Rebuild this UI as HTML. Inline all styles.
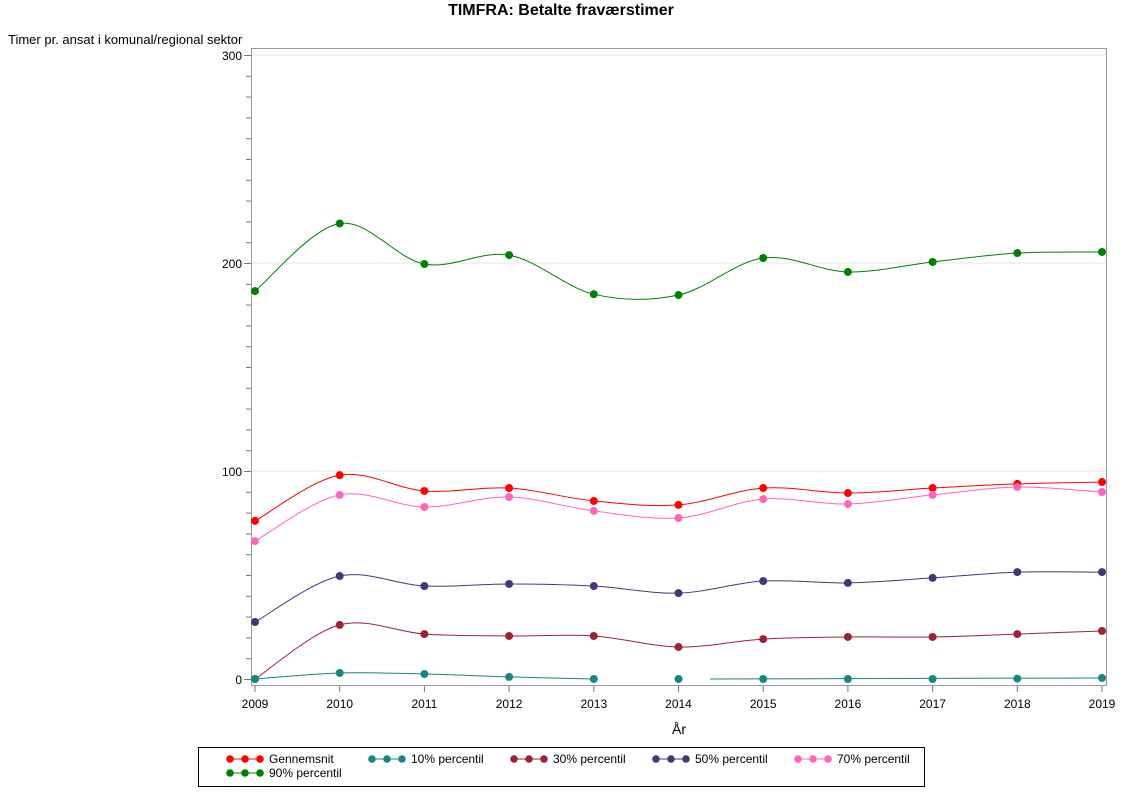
<!DOCTYPE html>
<html><head><meta charset="utf-8"><style>
body{margin:0;background:#fff;width:1122px;height:793px;overflow:hidden;font-family:"Liberation Sans",Arial,sans-serif}
</style></head><body>
<svg id="s" width="1122" height="793" xmlns="http://www.w3.org/2000/svg" font-family="Liberation Sans, Arial, sans-serif">
<text x="561" y="15" text-anchor="middle" font-size="16" font-weight="bold">TIMFRA: Betalte fraværstimer</text>
<text x="8" y="44" font-size="13">Timer pr. ansat i komunal/regional sektor</text>
<text x="679" y="734" text-anchor="middle" font-size="14">År</text>
<g id="grid"></g>
<rect x="251.5" y="48.5" width="855" height="637" fill="none" stroke="#999"/>
<g id="ax"></g>
<g id="series"></g>
<rect x="198.5" y="747.5" width="726" height="39" fill="none" stroke="#000"/>
<g id="leg" font-size="12"></g>
</svg>
<script>
var NS="http://www.w3.org/2000/svg";
function el(p,t,a,txt){var e=document.createElementNS(NS,t);for(var k in a)e.setAttribute(k,a[k]);if(txt!=null)e.textContent=txt;document.getElementById(p).appendChild(e);return e;}
function X(yr){return 255+(yr-2009)*84.7;}
function Y(v){return 679-v*2.08;}
[100,200,300].forEach(function(v){el("grid","line",{x1:252,x2:1106,y1:Y(v),y2:Y(v),stroke:"#e4e4e4"});});
for(var v=0;v<=300;v+=10){var big=v%100==0;el("ax","line",{x1:big?244:246,x2:251,y1:Y(v)+.5,y2:Y(v)+.5,stroke:"#777"});
 if(big)el("ax","text",{x:242,y:Y(v)+5,"text-anchor":"end","font-size":"12"},String(v));}
for(var yr=2009;yr<=2019;yr++){el("ax","line",{x1:X(yr),x2:X(yr),y1:686,y2:692,stroke:"#777"});
 el("ax","text",{x:X(yr),y:708,"text-anchor":"middle","font-size":"12"},String(yr));}
function path(pts){var d="M"+pts[0][0]+","+pts[0][1];for(var i=0;i<pts.length-1;i++){var p0=pts[i-1]||pts[i],p1=pts[i],p2=pts[i+1],p3=pts[i+2]||p2;
 d+=" C"+(p1[0]+(p2[0]-p0[0])/6)+","+(p1[1]+(p2[1]-p0[1])/6)+" "+(p2[0]-(p3[0]-p1[0])/6)+","+(p2[1]-(p3[1]-p1[1])/6)+" "+p2[0]+","+p2[1];}return d;}
var S=[
["#ff0000",[76,98,90.4,91.8,85.6,83.7,91.8,89.4,91.8,93.8,94.7]],
["#ff66bb",[66.3,88.5,82.7,87.5,80.8,77.4,86.5,84.1,88.5,92.3,89.9]],
["#3b3b7a",[27.4,49.5,44.7,45.7,44.7,41.3,47.1,46.2,48.6,51.4,51.4]],
["#9b2335",[0,26,21.6,20.7,20.7,15.4,19.2,20.2,20.2,21.6,23.1]],
["#008000",[186.5,219,199.5,203.8,185,184.6,202.4,195.7,200.5,204.8,205.3]]];
S.forEach(function(s){var pts=s[1].map(function(v,i){return [X(2009+i),Y(v)];});
 el("series","path",{d:path(pts),fill:"none",stroke:s[0],"stroke-width":1});
 pts.forEach(function(p){el("series","circle",{cx:p[0],cy:p[1],r:4,fill:s[0]});});});
var t=[0,2.9,2.4,1,0,0,0,0,0,0.2,0.5],tc="#17877f";
var a=t.slice(0,5).map(function(v,i){return [X(2009+i),Y(v)];});
el("series","path",{d:path(a),fill:"none",stroke:tc});
el("series","line",{x1:710,x2:X(2019),y1:Y(0),y2:Y(0.5),stroke:tc});
t.forEach(function(v,i){el("series","circle",{cx:X(2009+i),cy:Y(v),r:4,fill:tc});});
var L=[["#ff0000","Gennemsnit",230,759],[tc,"10% percentil",372,759],["#9b2335","30% percentil",514,759],["#3b3b7a","50% percentil",656,759],["#ff66bb","70% percentil",798,759],["#008000","90% percentil",230,773]];
L.forEach(function(l){el("leg","line",{x1:l[2],x2:l[2]+30,y1:l[3],y2:l[3],stroke:l[0]});
 [0,15,30].forEach(function(o){el("leg","circle",{cx:l[2]+o,cy:l[3],r:3.8,fill:l[0]});});
 el("leg","text",{x:l[2]+39,y:l[3]+4},l[1]);});
</script>
</body></html>
